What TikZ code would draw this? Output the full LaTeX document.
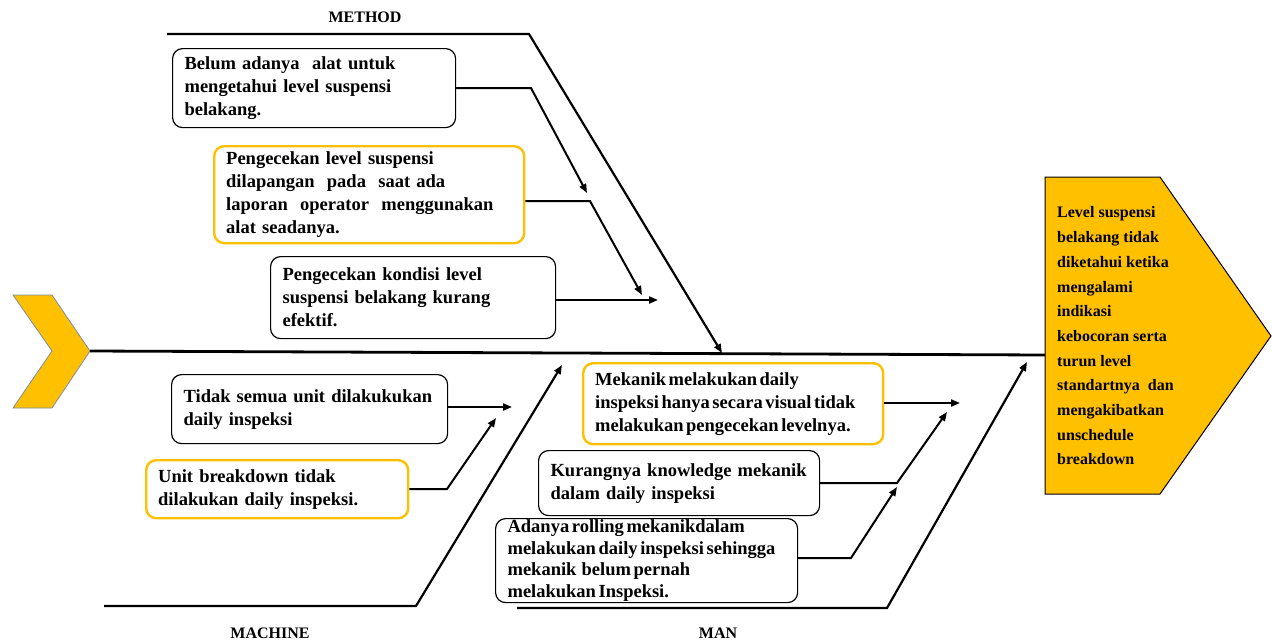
\documentclass[tikz,border=0pt]{standalone}
\usepackage{fontspec}
\setmainfont{Liberation Serif}
\usetikzlibrary{arrows.meta}
\definecolor{gold}{HTML}{FFC000}
\definecolor{chevline}{HTML}{7A8CA8}

\tikzset{
  cause/.style={draw=black, line width=1.2pt, rounded corners=10pt, fill=white,
    align=left, anchor=north west, inner xsep=12pt, inner ysep=0pt,
    font=\fontsize{18.5}{23}\selectfont\bfseries},
  causegold/.style={cause, draw=gold, line width=2.4pt},
  tight/.style={execute at begin node={\spaceskip=0.14em plus 0.05em\relax}},
  bone/.style={line width=2.2pt, -{Triangle[length=9pt,width=7pt]}},
  sub/.style={line width=2pt, -{Triangle[length=9pt,width=7pt]}},
  bonelabel/.style={font=\fontsize{16}{18}\selectfont\bfseries},
}

\begin{document}
\begin{tikzpicture}[x=1pt,y=-1pt]
        \useasboundingbox (0,0) rectangle (1272,640);

        % Tail
        \draw[fill=gold, draw=chevline, line width=0.8pt]
            (13,295) -- (52,295) -- (90,351) -- (52,408) -- (13,408) -- (52,351) -- cycle;

        % Head
        \draw[fill=gold, line width=1pt]
            (1045,177) -- (1160,177) -- (1271,336) -- (1160,494) -- (1045,494) -- cycle;
        \node[anchor=west, align=left, inner xsep=7pt,
              font=\fontsize{16}{24.7}\selectfont\bfseries] (effect) at (1050,336)
            {Level suspensi\\ belakang tidak\\ diketahui ketika\\ mengalami\\ indikasi\\
             kebocoran serta\\ turun level\\ standartnya\ \ dan\\ mengakibatkan\\ unschedule\\ breakdown};

        % Spine
        \coordinate (tail) at (90,351);
        \coordinate (headW) at (1045,355);
        \draw[line width=2.8pt] (tail) -- (headW);

        % Main bones
        \coordinate (methodA) at (167,34);   \coordinate (methodK) at (529,34);   \coordinate (methodT) at (722,353);
        \coordinate (machineA) at (104,606); \coordinate (machineK) at (416,606); \coordinate (machineT) at (562,365);
        \coordinate (manA) at (517,608);     \coordinate (manK) at (887,608);     \coordinate (manT) at (1027,362);
        \draw[bone] (methodA) -- (methodK) -- (methodT);
        \draw[bone] (machineA) -- (machineK) -- (machineT);
        \draw[bone] (manA) -- (manK) -- (manT);

        \node[bonelabel] (lmethod) at (365,17) {METHOD};
        \node[bonelabel] (lmachine) at (270,633) {MACHINE};
        \node[bonelabel] (lman) at (718,633) {MAN};

        % Method causes
        \node[cause, text width=259pt, minimum height=79pt] (m1) at (172,48)
            {Belum adanya\ \ alat untuk\\ mengetahui level suspensi\\ belakang.};
        \node[causegold, text width=286pt, minimum height=97pt] (m2) at (213,145)
            {Pengecekan level suspensi\\ dilapangan\ \ pada\ \ saat ada\\ laporan\ \ operator\ \ menggunakan\\ alat seadanya.};
        \node[cause, text width=261pt, minimum height=82pt] (m3) at (270,256)
            {Pengecekan kondisi level\\ suspensi belakang kurang\\ efektif.};

        % Machine causes
        \node[cause, text width=252pt, minimum height=69pt] (c1) at (171,374)
            {Tidak semua unit dilakukukan\\ daily inspeksi};
        \node[causegold, text width=238pt, minimum height=58pt] (c2) at (145,459)
            {Unit breakdown tidak\\ dilakukan daily inspeksi.};

        % Man causes
        \node[causegold, tight, text width=276pt, minimum height=81pt] (p1) at (582,362)
            {Mekanik melakukan daily\\ inspeksi hanya secara visual tidak\\ melakukan pengecekan levelnya.};
        \node[cause, text width=257pt, minimum height=65pt] (p2) at (538,450)
            {Kurangnya knowledge mekanik\\ dalam daily inspeksi};
        \node[cause, tight, text width=278pt, minimum height=84pt,
              font=\fontsize{18.5}{21.5}\selectfont\bfseries] (p3) at (495,518)
            {Adanya rolling mekanikdalam\\ melakukan daily inspeksi sehingga\\ mekanik\ \ belum pernah\\ melakukan Inspeksi.};

        % Sub bones
        \foreach \n/\p in {m1k/{531,88}, m1t/{587,193}, m2k/{590,201}, m2t/{642,295}, m3t/{658,300},
                           c1t/{512,407}, c2k/{447,489}, c2t/{496,418},
                           p1t/{960,403}, p2k/{897,483}, p2t/{947,412}, p3k/{851,558}, p3t/{897,487}}
            \coordinate (\n) at (\p);

        \foreach \b in {m1,m2,c2,p2,p3}
        {
            \draw[sub] (\b.east |- \b k) -- (\b k) -- (\b t);
        }
        \foreach \b in {m3,c1,p1}
        {
            \draw[sub] (\b.east |- \b t) -- (\b t);
        }

    \end{tikzpicture}
\end{document}
